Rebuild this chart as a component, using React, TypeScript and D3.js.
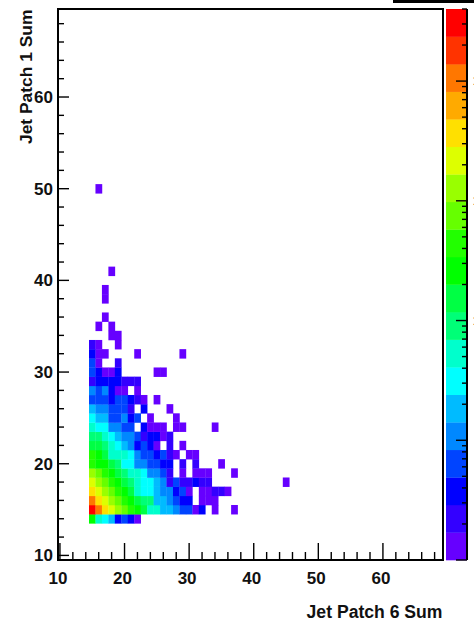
import React from "react";
import * as d3 from "d3";

const _ = null;
const firstColumn = 15;
const rowBins = [14, 15, 16, 17, 18, 19, 20, 21, 22, 23, 24, 25, 26, 27, 28, 29, 30, 31, 32, 33, 34, 35, 36, 38, 39, 41, 50];
const rowLevels: (number | null)[][] = [
  [10, 7, 6, 5, 2, 3, 2, 0],
  [19, 17, 15, 14, 13, 12, 11, 10, 9, 7, 7, 5, 5, 4, 3, 3, 0, 2, _, 0, _, _, 0],
  [17, 15, 14, 13, 12, 11, 10, 9, 8, 8, 5, 5, 4, 3, 2, 2, _, 0, 0, 0],
  [15, 14, 13, 12, 11, 10, 9, 7, 6, 6, 5, 4, 4, 2, 3, 0, _, 0, 0, 1, 1, 0],
  [14, 13, 12, 11, 10, 9, 8, 7, 6, 6, 5, 4, 1, 3, 1, 1, 2, 1, 1, _, _, _, _, _, _, _, _, _, _, _, 0],
  [13, 12, 11, 10, 9, 8, 7, 7, 6, 4, 4, 3, 1, _, 0, _, 0, 0, 0, _, _, _, 0],
  [11, 10, 10, 9, 8, 6, 6, 4, 4, 3, 3, 2, 2, _, 1, _, 1, _, _, _, 0],
  [11, 10, 9, 7, 7, 7, 6, 4, 3, 3, 2, 3, 1, 0, _, 0, 0],
  [9, 9, 8, 7, 6, 5, 4, 2, 3, 2, 0, _, 1, _, 0],
  [8, 8, 7, 6, 5, 4, 4, 3, 1, 2, 2, 0, 1],
  [7, 6, 6, 4, 4, 3, 3, _, 2, 0, 0, 0, _, 0, 0, _, _, _, _, 0],
  [6, 5, 5, 3, 3, 4, 2, 3, _, 0, _, _, _, 0],
  [5, 4, 4, 3, 3, 3, 1, _, 2, _, _, _, 0],
  [3, 3, 3, 2, 3, 3, 2, 1, 0, _, 0],
  [4, 3, 4, 2, 0, 0, _, 0],
  [1, 2, 2, 2, 2, 1, 1, 1],
  [3, 2, 0, 0, 2, _, _, _, _, _, 0, 0],
  [3, 0, _, _, 1],
  [2, 0, 0, _, _, _, _, 0, _, _, _, _, _, _, 0],
  [1, 0, _, _, 0],
  [_, _, _, 0, 0],
  [_, 0, _, 0],
  [_, _, 0],
  [_, _, 0],
  [_, _, 0],
  [_, _, _, 0],
  [_, 0],
];
const palette = [
  "#6600ff", "#3300ff", "#0000ff", "#0044ff", "#0088ff", "#00bbff", "#00ffff",
  "#00ffcc", "#00ff77", "#00ff44", "#00ff00", "#22ff00", "#66ff00", "#99ff00",
  "#ddff00", "#ffe000", "#ffaa00", "#ff7700", "#ff3300", "#ff0000",
];
const xTickLabels = [10, 20, 30, 40, 50, 60];
const yTickLabels = [10, 20, 30, 40, 50, 60];
const xTitle = "Jet Patch 6 Sum";
const yTitle = "Jet Patch 1 Sum";
const zMajors = [1, 10, 100, 1000, 10000];
const zLabelled = [100, 1000, 10000];
const zMinorFactors = [2, 3, 4, 5, 6, 7, 8, 9];
const zTop = 40000;

const FONT = "'Liberation Sans', Arial, sans-serif";

export default function App() {
  const left = 58, right = 443, top = 9, bottom = 560;
  const x = d3.scaleLinear().domain([9.7, 69.3]).range([left, right]);
  const y = d3.scaleLinear().domain([9.5, 69.6]).range([bottom, top]);
  const z = d3.scaleLog().domain([1, zTop]).range([bottom, top]);
  const bandIndex = d3.range(palette.length);
  const band = d3.scaleBand<number>().domain(bandIndex).range([bottom, top]);
  const xMinor = d3.range(10, 70, 2).filter((v) => v % 10 !== 0);
  const yMinor = d3.range(10, 70, 2).filter((v) => v % 10 !== 0);
  const zMinor = zMajors.flatMap((m) => zMinorFactors.map((f) => m * f)).filter((v) => v <= zTop);
  const barLeft = 446, barRight = 467;

  return (
    <svg
      width={474}
      height={626}
      style={{ position: "absolute", left: 0, top: 0, display: "block", background: "#fff" }}
      fontFamily={FONT}
      fontWeight="bold"
    >
      <rect x={393} y={0} width={81} height={3} fill="#000" />
      {rowLevels.map((levels, r) =>
        levels.map((lv, i) =>
          lv === null ? null : (
            <rect
              key={`${r}-${i}`}
              x={x(firstColumn + i - 0.5)}
              y={y(rowBins[r] + 0.5)}
              width={x(1) - x(0) + 0.3}
              height={y(0) - y(1) + 0.3}
              fill={palette[lv]}
            />
          )
        )
      )}
      <rect x={left} y={top} width={right - left} height={bottom - top} fill="none" stroke="#000" strokeWidth={2} />
      {xMinor.map((v) => (
        <line key={v} x1={x(v)} x2={x(v)} y1={bottom} y2={bottom - 8} stroke="#000" strokeWidth={1.4} />
      ))}
      {xTickLabels.map((v) => (
        <g key={v}>
          <line x1={x(v)} x2={x(v)} y1={bottom} y2={bottom - 17} stroke="#000" strokeWidth={1.4} />
          <text x={x(v) - 2} y={584} fontSize={17} textAnchor="middle" fill="#111">{v}</text>
        </g>
      ))}
      {yMinor.map((v) => (
        <line key={v} x1={left} x2={left + 6} y1={y(v)} y2={y(v)} stroke="#000" strokeWidth={1.4} />
      ))}
      {yTickLabels.map((v) => (
        <g key={v}>
          <line x1={left} x2={left + 11} y1={y(v)} y2={y(v)} stroke="#000" strokeWidth={1.4} />
          <text x={53} y={y(v) + 6} fontSize={17} textAnchor="end" fill="#111">{v}</text>
        </g>
      ))}
      {bandIndex.map((k) => (
        <rect key={k} x={barLeft} y={band(k)} width={barRight - barLeft} height={band.bandwidth() + 0.3} fill={palette[k]} />
      ))}
      <line x1={barRight} x2={barRight} y1={top} y2={bottom} stroke="#000" strokeWidth={2} />
      {zMinor.map((v) => (
        <line key={v} x1={barRight} x2={barRight - 5} y1={z(v)} y2={z(v)} stroke="#000" strokeWidth={1.4} />
      ))}
      {zMajors.map((v) => (
        <line key={v} x1={barRight} x2={barRight - 11} y1={z(v)} y2={z(v)} stroke="#000" strokeWidth={1.4} />
      ))}
      {zLabelled.map((v) => (
        <text key={v} x={473} y={z(v) + 4} fontSize={12} fill="#111">{v}</text>
      ))}
      <text x={442.5} y={618} fontSize={17.6} textAnchor="end" fill="#111">{xTitle}</text>
      <text transform={`translate(31.5,144) rotate(-90)`} fontSize={17.4} fill="#111">
        {yTitle}
      </text>
    </svg>
  );
}
